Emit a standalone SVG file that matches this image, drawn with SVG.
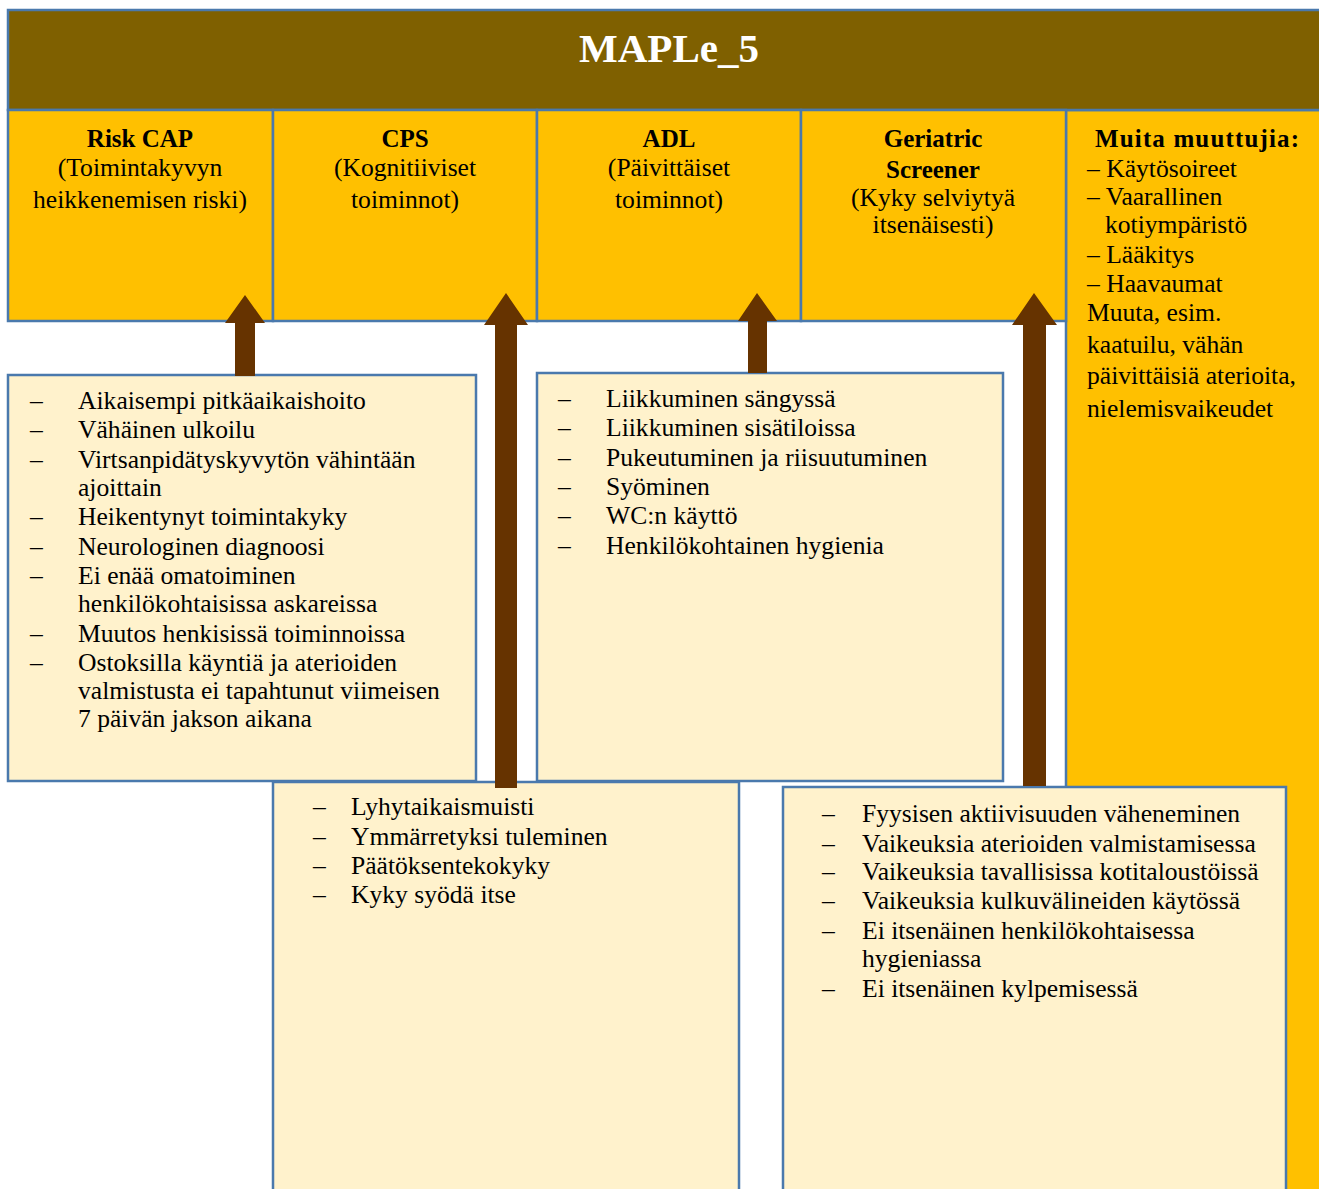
<svg xmlns="http://www.w3.org/2000/svg" width="1319" height="1189" viewBox="0 0 1319 1189">
<style>
.bd{stroke:#4a79ad;stroke-width:2.5}
.title{fill:#7f6000}
.top{fill:#ffc000}
.list{fill:#fff2cc}
text{font-family:"Liberation Serif","Times New Roman",serif;font-size:25.6px;fill:#000}
.h{font-weight:bold;font-size:25px}
.c{text-anchor:middle}
.tt{font-size:41px;font-weight:bold;fill:#fff}
.arr{fill:#663300}
</style>
<rect width="1319" height="1189" fill="#fff"/>
<g id="muita">
<rect class="top bd" x="1066" y="110" width="270" height="1100"/>
<text class="h" x="1095" y="147" textLength="204" lengthAdjust="spacing">Muita muuttujia:</text>
<text x="1087" y="177">– Käytösoireet</text>
<text x="1087" y="205">– Vaarallinen</text>
<text x="1105" y="233">kotiympäristö</text>
<text x="1087" y="263">– Lääkitys</text>
<text x="1087" y="292">– Haavaumat</text>
<text x="1087" y="321">Muuta, esim.</text>
<text x="1087" y="353">kaatuilu, vähän</text>
<text x="1087" y="384">päivittäisiä aterioita,</text>
<text x="1087" y="417">nielemisvaikeudet</text>
</g>
<g id="title">
<rect class="title bd" x="8" y="10" width="1330" height="100"/>
<text class="tt c" x="669" y="62">MAPLe_5</text>
</g>
<g id="riskcap">
<rect class="top bd" x="8" y="110" width="265" height="211"/>
<text class="h c" x="140" y="147">Risk CAP</text>
<text class="c" x="140" y="176">(Toimintakyvyn</text>
<text class="c" x="140" y="208">heikkenemisen riski)</text>
</g>
<g id="cps">
<rect class="top bd" x="273" y="110" width="264" height="211"/>
<text class="h c" x="405" y="147">CPS</text>
<text class="c" x="405" y="176">(Kognitiiviset</text>
<text class="c" x="405" y="208">toiminnot)</text>
</g>
<g id="adl">
<rect class="top bd" x="537" y="110" width="264" height="211"/>
<text class="h c" x="669" y="147">ADL</text>
<text class="c" x="669" y="176">(Päivittäiset</text>
<text class="c" x="669" y="208">toiminnot)</text>
</g>
<g id="geriatric">
<rect class="top bd" x="801" y="110" width="265" height="211"/>
<text class="h c" x="933" y="147">Geriatric</text>
<text class="h c" x="933" y="178">Screener</text>
<text class="c" x="933" y="206">(Kyky selviytyä</text>
<text class="c" x="933" y="233">itsenäisesti)</text>
</g>
<g id="riskcap-list">
<rect class="list bd" x="8" y="375" width="468" height="406"/>
<text x="30" y="409">–</text><text x="78" y="409">Aikaisempi pitkäaikaishoito</text>
<text x="30" y="438">–</text><text x="78" y="438">Vähäinen ulkoilu</text>
<text x="30" y="468">–</text><text x="78" y="468">Virtsanpidätyskyvytön vähintään</text>
<text x="78" y="496">ajoittain</text>
<text x="30" y="525">–</text><text x="78" y="525">Heikentynyt toimintakyky</text>
<text x="30" y="555">–</text><text x="78" y="555">Neurologinen diagnoosi</text>
<text x="30" y="584">–</text><text x="78" y="584">Ei enää omatoiminen</text>
<text x="78" y="612">henkilökohtaisissa askareissa</text>
<text x="30" y="642">–</text><text x="78" y="642">Muutos henkisissä toiminnoissa</text>
<text x="30" y="671">–</text><text x="78" y="671">Ostoksilla käyntiä ja aterioiden</text>
<text x="78" y="699">valmistusta ei tapahtunut viimeisen</text>
<text x="78" y="727">7 päivän jakson aikana</text>
</g>
<g id="adl-list">
<rect class="list bd" x="537" y="373" width="466" height="408"/>
<text x="558" y="407">–</text><text x="606" y="407">Liikkuminen sängyssä</text>
<text x="558" y="436">–</text><text x="606" y="436">Liikkuminen sisätiloissa</text>
<text x="558" y="466">–</text><text x="606" y="466">Pukeutuminen ja riisuutuminen</text>
<text x="558" y="495">–</text><text x="606" y="495">Syöminen</text>
<text x="558" y="524">–</text><text x="606" y="524">WC:n käyttö</text>
<text x="558" y="554">–</text><text x="606" y="554">Henkilökohtainen hygienia</text>
</g>
<g id="cps-list">
<rect class="list bd" x="273" y="782" width="466" height="430"/>
<text x="313" y="815">–</text><text x="351" y="815">Lyhytaikaismuisti</text>
<text x="313" y="845">–</text><text x="351" y="845">Ymmärretyksi tuleminen</text>
<text x="313" y="874">–</text><text x="351" y="874">Päätöksentekokyky</text>
<text x="313" y="903">–</text><text x="351" y="903">Kyky syödä itse</text>
</g>
<g id="geriatric-list">
<rect class="list bd" x="783" y="787" width="503" height="430"/>
<text x="822" y="822">–</text><text x="862" y="822">Fyysisen aktiivisuuden väheneminen</text>
<text x="822" y="852">–</text><text x="862" y="852">Vaikeuksia aterioiden valmistamisessa</text>
<text x="822" y="880">–</text><text x="862" y="880">Vaikeuksia tavallisissa kotitaloustöissä</text>
<text x="822" y="909">–</text><text x="862" y="909">Vaikeuksia kulkuvälineiden käytössä</text>
<text x="822" y="939">–</text><text x="862" y="939">Ei itsenäinen henkilökohtaisessa</text>
<text x="862" y="967">hygieniassa</text>
<text x="822" y="997">–</text><text x="862" y="997">Ei itsenäinen kylpemisessä</text>
</g>
<g id="connectors">
<polygon class="arr" points="245,295 265,323 255,323 255,376 235,376 235,323 225,323"/>
<polygon class="arr" points="506,293 528,325 517,325 517,788 495,788 495,325 484,325"/>
<polygon class="arr" points="757,293 777,321 767,321 767,373 748,373 748,321 738,321"/>
<polygon class="arr" points="1034,293 1057,325 1046,325 1046,786 1023,786 1023,325 1012,325"/>
</g>
</svg>
